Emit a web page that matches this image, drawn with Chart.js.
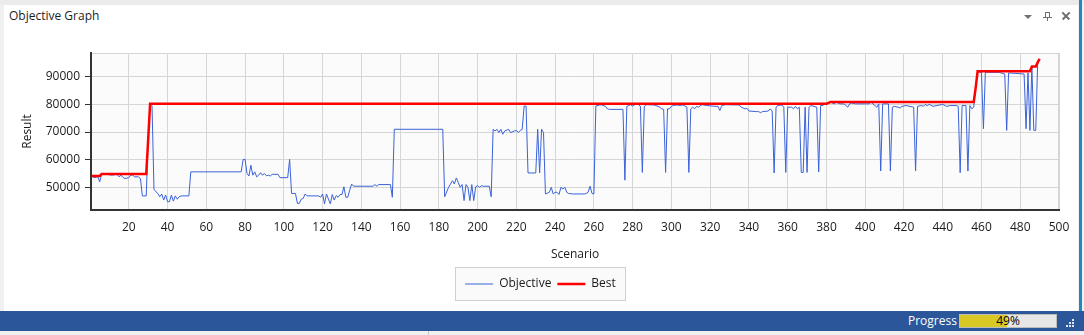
<!DOCTYPE html>
<html>
<head>
<meta charset="utf-8">
<title>Objective Graph</title>
<script src="https://cdn.jsdelivr.net/npm/chart.js@4.4.1/dist/chart.umd.min.js"></script>
<style>
  html, body { margin: 0; padding: 0; }
  body { width: 1084px; height: 335px; overflow: hidden; position: relative; background: #f0f0f0; font-family: 'Open Sans', sans-serif; }
  #topband { position: absolute; left: 0; top: 0; width: 1084px; height: 5px; background: #ebebeb; }
  #panel { position: absolute; left: 4px; top: 5px; width: 1074px; height: 306px; background: #fff; }
  #edge { position: absolute; left: 1079px; top: 0; width: 3px; height: 311px; background: #2387c3; }
  #title { position: absolute; left: 9px; top: 7px; font-size: 12px; line-height: 17px; color: #1e1e1e; }
  .tri { position: absolute; left: 1024px; top: 15px; width: 0; height: 0; border-left: 4px solid transparent; border-right: 4px solid transparent; border-top: 4px solid #707070; }
  .pin-head { position: absolute; left: 1045px; top: 12px; width: 3px; height: 5px; border: 1px solid #707070; border-bottom: none; }
  .pin-bar { position: absolute; left: 1043px; top: 17px; width: 9px; height: 1px; background: #707070; }
  .pin-stem { position: absolute; left: 1047px; top: 18px; width: 1px; height: 3px; background: #707070; }
  .x1, .x2 { position: absolute; left: 1061px; top: 15px; width: 10px; height: 1.5px; background: #707070; }
  .x1 { transform: rotate(45deg); }
  .x2 { transform: rotate(-45deg); }
  #chart { position: absolute; left: 0; top: 0; }
  #status { position: absolute; left: 0; top: 311px; width: 1084px; height: 20px; background: #2b579a; }
  #progtext { position: absolute; left: 908px; top: 311px; line-height: 20px; font-size: 12px; color: #fff; }
  #progbar { position: absolute; left: 959px; top: 314px; width: 96px; height: 12px; border: 1px solid #bcbcbc; background: #e6e6e6; }
  #progfill { position: absolute; left: 0; top: 0; width: 47px; height: 12px; background: #d8c826; }
  #proglabel { position: absolute; left: 0; top: 0; width: 96px; line-height: 12px; text-align: center; font-size: 12px; color: #000; }
  .dot { position: absolute; width: 2px; height: 2px; background: #dfe6f0; }
  #bottom { position: absolute; left: 428px; top: 331px; width: 1px; height: 4px; background: #c8c8c8; }
</style>
</head>
<body>
<div id="topband"></div>
<div id="panel"></div>
<div id="edge"></div>
<div id="title">Objective Graph</div>
<div class="tri"></div>
<div class="pin-head"></div><div class="pin-bar"></div><div class="pin-stem"></div>
<div class="x1"></div><div class="x2"></div>
<canvas id="chart" width="1081" height="308"></canvas>
<div id="status"></div>
<div id="progtext">Progress</div>
<div id="progbar"><div id="progfill"></div><div id="proglabel">49%</div></div>
<div class="dot" style="left:1072px;top:319px"></div>
<div class="dot" style="left:1069px;top:322px"></div>
<div class="dot" style="left:1072px;top:322px"></div>
<div class="dot" style="left:1066px;top:325px"></div>
<div class="dot" style="left:1069px;top:325px"></div>
<div class="dot" style="left:1072px;top:325px"></div>
<div id="bottom"></div>
<script>
// Valores (escenario -> resultado)
const objScenario = [1,2,4,5,6,9,11,14,15,16,17,18,20,21,22,23,25,26,27,29,30,31,32,33,34,35,36,37,38,39,40,41,42,43,44,45,46,47,51,52,78,79,80,81,82,83,84,85,86,87,88,89,90,91,92,93,94,97,98,102,103,104,106,107,108,109,110,111,112,118,119,120,121,122,123,124,125,126,127,128,129,130,131,132,133,134,135,136,146,147,148,149,155,156,157,182,183,185,186,187,188,189,190,191,192,193,194,195,196,197,198,199,200,201,202,203,206,207,208,209,210,211,212,213,214,216,217,219,220,221,222,223,224,225,226,230,231,232,233,234,235,237,238,239,240,241,242,243,244,245,246,247,249,255,256,257,258,259,260,261,263,264,266,267,268,275,276,277,278,279,280,281,282,283,284,285,286,287,291,292,294,295,296,297,298,299,300,301,303,304,306,308,309,310,311,312,313,314,315,316,318,323,324,325,326,328,335,336,338,339,340,344,345,346,347,350,351,352,353,354,355,357,358,359,360,362,363,364,365,366,367,368,369,370,371,372,375,376,377,378,379,380,381,382,383,384,385,387,389,390,391,392,393,395,402,403,404,405,406,407,408,409,412,413,414,415,417,418,419,421,425,426,427,429,430,431,432,433,435,437,440,442,444,447,448,449,450,452,453,454,455,456,457,458,459,460,461,462,469,470,472,473,474,482,483,484,485,486,487,488,489,490];
const objValue = [54100,53500,53800,52000,54800,54700,54400,54700,53800,54400,53600,53200,53500,54400,54400,53800,53800,53200,46900,46900,67200,80250,79500,49300,48400,47800,46600,47600,45400,47200,44800,44800,47200,45000,46900,45700,46600,46900,46900,55600,55600,60100,60100,55000,54100,58000,54400,55600,53800,54400,55300,54400,55000,54200,54400,54100,54700,54700,53500,53500,60100,47800,47800,44200,44200,45700,46000,47600,46900,46900,46400,47600,44000,47600,45800,44000,47400,45400,47000,46400,47400,47400,50200,46400,46400,49000,51200,50400,50400,51000,50400,51000,51000,46400,71000,71000,46600,50000,51200,52400,51200,53400,51800,50000,51000,45200,51000,50000,45200,51000,45200,50200,50600,50000,50600,50400,50400,46600,71000,70400,71000,69800,71000,69200,70400,71000,69800,70400,70600,69800,70600,71000,79400,79400,55200,55200,71000,55200,71000,69800,47600,48200,50000,47600,48200,48200,47400,50000,49400,50000,48200,47800,47600,47600,47800,48200,50400,47800,47600,79400,79800,79800,79300,78400,78200,78200,52600,79300,79600,79900,79400,79900,80200,79900,79300,55400,79300,79900,79800,79600,79000,78400,78200,55400,78400,78400,79300,79600,79800,79600,79800,79000,55400,78400,79000,78400,79300,79000,79600,79900,79600,79300,79300,77800,79600,79900,79800,79000,78400,78600,77600,77400,77400,77000,77400,77600,78400,77600,55200,79000,79600,79800,79000,55400,79000,79000,78400,79300,78400,79000,55400,55400,79000,55400,79000,79600,79000,55600,79600,79600,80000,80200,80500,80900,80500,80200,80800,80200,80200,79600,79000,80200,80500,80200,80200,80800,80200,79600,79000,80200,55900,80200,80200,55900,79000,79300,79000,78700,79300,79600,79000,55900,79300,79600,79300,80000,79600,80000,79300,79600,80000,79300,79600,79600,79300,55300,79600,79600,55900,79600,78400,79000,86000,92000,91600,91600,71200,91600,91600,91400,91000,70600,91400,91000,71200,91400,70600,93700,70600,70600,95200,96500];

const bestScenario = [1,5,6,29,30,31,380,381,382,456,457,458,485,486,488,489,490];
const bestValue = [54100,54100,54800,54800,67200,80250,80250,80500,80900,80900,86000,92000,92000,93700,93700,95200,96500];

const xTicks = [20,40,60,80,100,120,140,160,180,200,220,240,260,280,300,320,340,360,380,400,420,440,460,480,500];
const yTicks = [50000,60000,70000,80000,90000];

Chart.defaults.font.family = "'Open Sans', sans-serif";
Chart.defaults.font.size = 12;
Chart.defaults.color = '#1a1a1a';

// fondo del área de trazado, borde gris y caja de la leyenda
const plotBg = {
  id: 'plotBg',
  beforeDraw(chart) {
    const { ctx, chartArea: a } = chart;
    ctx.save();
    ctx.fillStyle = '#fbfbfb';
    ctx.fillRect(a.left, a.top, a.right - a.left, a.bottom - a.top);
    ctx.strokeStyle = '#d4d4d4';
    ctx.lineWidth = 1;
    ctx.strokeRect(Math.round(a.left) + 0.5, Math.round(a.top) + 0.5, Math.round(a.right - a.left) - 1, Math.round(a.bottom - a.top) - 1);
    const hb = chart.legend.legendHitBoxes;
    if (hb && hb.length) {
      const first = hb[0], last = hb[hb.length - 1];
      const cy = first.top + first.height / 2;
      const x0 = Math.round(first.left - 10) + 0.5;
      const x1 = Math.round(last.left + last.width + 9) + 0.5;
      const y0 = Math.round(cy - 17) + 0.5;
      ctx.fillStyle = '#fafafa';
      ctx.fillRect(x0, y0, x1 - x0, 33);
      ctx.strokeStyle = '#d0d0d0';
      ctx.strokeRect(x0, y0, x1 - x0, 33);
    }
    ctx.restore();
  }
};

new Chart(document.getElementById('chart'), {
  type: 'line',
  data: {
    datasets: [{
      label: 'Objective',
      data: objScenario.map((s, i) => ({ x: s, y: objValue[i] })),
      borderColor: '#3b63d8',
      borderWidth: 1,
      pointRadius: 0,
      tension: 0
    }, {
      label: 'Best',
      data: bestScenario.map((s, i) => ({ x: s, y: bestValue[i] })),
      borderColor: '#ff0000',
      borderWidth: 2.5,
      pointRadius: 0,
      tension: 0,
      order: -1
    }]
  },
  options: {
    responsive: false,
    animation: false,
    devicePixelRatio: 1,
    events: [],
    layout: { padding: { left: 0, right: 0, top: 53, bottom: 8 } },
    plugins: {
      tooltip: { enabled: false },
      legend: {
        position: 'bottom',
        labels: {
          usePointStyle: true,
          pointStyle: 'line',
          pointStyleWidth: 28,
          padding: 6,
          sort: (a, b) => a.datasetIndex - b.datasetIndex
        }
      }
    },
    scales: {
      x: {
        type: 'linear',
        min: 0.5,
        max: 500,
        afterBuildTicks: s => { s.ticks = xTicks.map(v => ({ value: v })); },
        afterFit: s => { s.height = 62; },
        grid: { color: '#d6d6d6', drawTicks: false },
        border: { color: '#333', width: 2 },
        ticks: { padding: 10, maxRotation: 0, autoSkip: false, callback: v => String(v) },
        title: { display: true, text: 'Scenario', padding: { top: 0, bottom: 10 } }
      },
      y: {
        min: 41800,
        max: 98600,
        afterBuildTicks: s => { s.ticks = yTicks.map(v => ({ value: v })); },
        afterFit: s => { s.width = 91; },
        grid: { color: '#d6d6d6', tickColor: '#333', tickLength: 6 },
        border: { color: '#333', width: 2 },
        ticks: { padding: 5, callback: v => String(v) },
        title: { display: true, text: 'Result', padding: { top: 20, bottom: 0 } }
      },
      y2: {
        position: 'right',
        display: true,
        grid: { display: false },
        border: { display: false },
        ticks: { display: false },
        afterFit: s => { s.width = 22; }
      }
    }
  },
  plugins: [plotBg]
});
</script>
</body>
</html>
